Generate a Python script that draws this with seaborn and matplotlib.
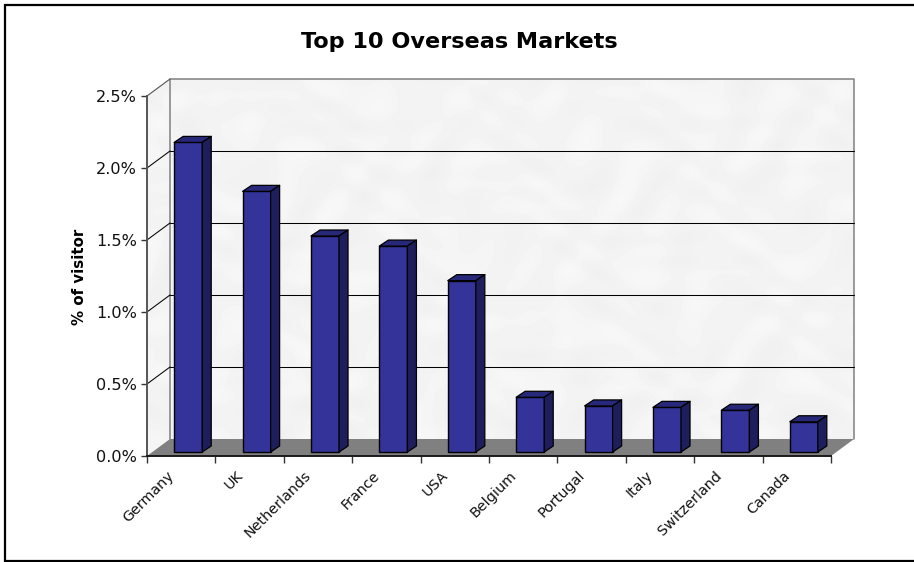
import numpy as np
import pandas as pd
import matplotlib
matplotlib.use("Agg")
import matplotlib.pyplot as plt
from matplotlib.patches import Polygon
from matplotlib.transforms import IdentityTransform, ScaledTranslation
import seaborn as sns

markets = ["Germany", "UK", "Netherlands", "France", "USA",
           "Belgium", "Portugal", "Italy", "Switzerland", "Canada"]
visitor_share = [2.15, 1.81, 1.50, 1.43, 1.19, 0.38, 0.32, 0.31, 0.29, 0.21]
y_ticks = [0.0, 0.5, 1.0, 1.5, 2.0, 2.5]

W, H = 914, 562
DEPTH_X, DEPTH_Y = 23, 17      # wall depth of the pseudo-3D box, in pixels
BAR_DX, BAR_DY = 7, 4          # shift of bar fronts off the axis plane
SIDE_X, SIDE_Y = 9, 6          # visible bar depth

sns.set_theme(style="white")
plt.rcParams["font.family"] = ["DejaVu Sans"]

fig = plt.figure(figsize=(W / 100, H / 100), dpi=100, facecolor="white")

# Pixel-space backdrop for the frame and the mottled walls
bg = fig.add_axes([0, 0, 1, 1], zorder=0)
bg.set_xlim(0, W)
bg.set_ylim(H, 0)
bg.axis("off")

ax = fig.add_axes([147 / W, 1 - 456 / H, 684 / W, 360 / H], zorder=1)
ax.patch.set_alpha(0)
df = pd.DataFrame({"market": markets, "share": visitor_share})
sns.barplot(data=df, x="market", y="share", color="#333399", saturation=1,
            width=0.41, edgecolor="black", linewidth=1.0, ax=ax, zorder=5)
ax.set_xlim(-0.5, len(markets) - 0.5)
ax.set_ylim(0, 2.5)
fig.canvas.draw()
bars = list(ax.containers[0])


def to_px(x, y):
    return ax.transData.transform((x, y))


def add_px_poly(points, **kw):
    ax.add_patch(Polygon(points, closed=True, transform=IdentityTransform(),
                         clip_on=False, **kw))


def add_px_line(xs, ys, **kw):
    ax.plot(xs, ys, transform=IdentityTransform(), clip_on=False, **kw)


x0, y0 = to_px(-0.5, 0)
x1, y1 = to_px(len(markets) - 0.5, 2.5)

# Soft, irregular texture on the back and left walls
yy, xx = np.mgrid[0:H, 0:W]
mottle = (np.sin(xx / 13.0 + 3.1 * np.sin(yy / 31.0 + xx / 53.0))
          + np.sin(yy / 9.0 + 3.7 * np.sin(xx / 27.0 - yy / 43.0))
          + 0.6 * np.sin(xx / 19.0 + yy / 7.0 + 2.9 * np.sin(yy / 23.0 - xx / 61.0)))
texture = 0.955 + 0.0055 * mottle
img = bg.imshow(texture, cmap="gray", vmin=0, vmax=1, extent=(0, W, H, 0),
                aspect="auto", interpolation="bilinear", zorder=1)
top_px, bot_px = H - y1, H - y0
walls = Polygon([(x0, bot_px), (x0, top_px), (x0 + DEPTH_X, top_px - DEPTH_Y),
                 (x1 + DEPTH_X, top_px - DEPTH_Y), (x1 + DEPTH_X, bot_px - DEPTH_Y),
                 (x1, bot_px)],
                closed=True, transform=bg.transData, facecolor="none", edgecolor="none")
bg.add_patch(walls)
img.set_clip_path(walls)

# Outer frame, open on the right side
bg.plot([920, 5, 5, 920], [5, 5, 561, 561], color="black", lw=1.6,
        solid_joinstyle="miter", zorder=2, clip_on=False)

# Floor and wall outline
add_px_poly([(x0, y0), (x0 + DEPTH_X, y0 + DEPTH_Y),
             (x1 + DEPTH_X, y0 + DEPTH_Y), (x1, y0)],
            facecolor="#808080", edgecolor="none", zorder=1)
add_px_line([x0 + DEPTH_X, x0 + DEPTH_X, x1 + DEPTH_X, x1 + DEPTH_X],
            [y0 + DEPTH_Y, y1 + DEPTH_Y, y1 + DEPTH_Y, y0 + DEPTH_Y],
            color="#808080", lw=1.1, zorder=1.5)
add_px_line([x0, x0 + DEPTH_X], [y1, y1 + DEPTH_Y], color="#555555", lw=0.8, zorder=1.5)

# Gridlines run along the left wall and across the back wall
for tick in y_ticks[1:-1]:
    gx, gy = to_px(-0.5, tick)
    add_px_line([gx, gx + DEPTH_X], [gy, gy + DEPTH_Y], color="black", lw=0.75, zorder=2)
    add_px_line([gx + DEPTH_X, x1 + DEPTH_X], [gy + DEPTH_Y, gy + DEPTH_Y],
                color="black", lw=0.75, zorder=2)

# Shift each bar forward and give it a top and a side face
for bar in bars:
    lx, top = to_px(bar.get_x(), bar.get_height())
    rx, base = to_px(bar.get_x() + bar.get_width(), 0)
    lx, rx = lx + BAR_DX, rx + BAR_DX
    base, top = base + BAR_DY, top + BAR_DY
    add_px_poly([(lx, base), (lx, top), (rx, top), (rx, base)],
                facecolor="#333399", edgecolor="black", lw=1.0, zorder=5,
                joinstyle="miter")
    add_px_poly([(lx, top), (lx + SIDE_X, top + SIDE_Y), (rx + SIDE_X, top + SIDE_Y), (rx, top)],
                facecolor="#28287a", edgecolor="black", lw=0.9, zorder=5,
                joinstyle="round")
    add_px_poly([(rx, base), (rx, top), (rx + SIDE_X, top + SIDE_Y), (rx + SIDE_X, base + SIDE_Y)],
                facecolor="#1e1e5c", edgecolor="black", lw=0.9, zorder=5,
                joinstyle="round")
    bar.set_visible(False)

# Axes, ticks and labels
for side in ("top", "right"):
    ax.spines[side].set_visible(False)
ax.spines["left"].set_color("#555555")
ax.spines["left"].set_linewidth(1.4)
ax.spines["bottom"].set_color("#1a1a1a")
ax.spines["bottom"].set_linewidth(1.4)
for spine in ax.spines.values():
    spine.set_zorder(8)

ax.set_yticks(y_ticks)
ax.set_yticklabels([f"{t:.1f}%" for t in y_ticks], fontsize=11.6, color="#111111")
ax.tick_params(axis="y", left=True, length=4.3, width=1.0, color="#333333", pad=3)

ax.set_xticks(range(len(markets)))
ax.set_xticklabels(markets, rotation=45, ha="right", rotation_mode="anchor",
                   fontsize=10.4, color="#111111")
ax.set_xticks(np.arange(-0.5, len(markets)), minor=True)
ax.tick_params(axis="x", which="major", bottom=False, length=0, pad=14)
ax.tick_params(axis="x", which="minor", bottom=True, length=5, width=1.0, color="#333333")
label_shift = ScaledTranslation(-14 / 100, 7 / 100, fig.dpi_scale_trans)
for label in ax.get_xticklabels():
    label.set_transform(label.get_transform() + label_shift)
ax.set_xlabel("")
ax.set_ylabel("")

fig.text(80 / W, 1 - 276.5 / H, "% of visitor", rotation=90, ha="center", va="center",
         fontsize=10.8, fontweight="bold", color="black")
fig.text(459.5 / W, 1 - 41.5 / H, "Top 10 Overseas Markets", ha="center", va="center",
         fontsize=16.1, fontweight="bold", color="black")

fig.savefig("out.png", dpi=100)
